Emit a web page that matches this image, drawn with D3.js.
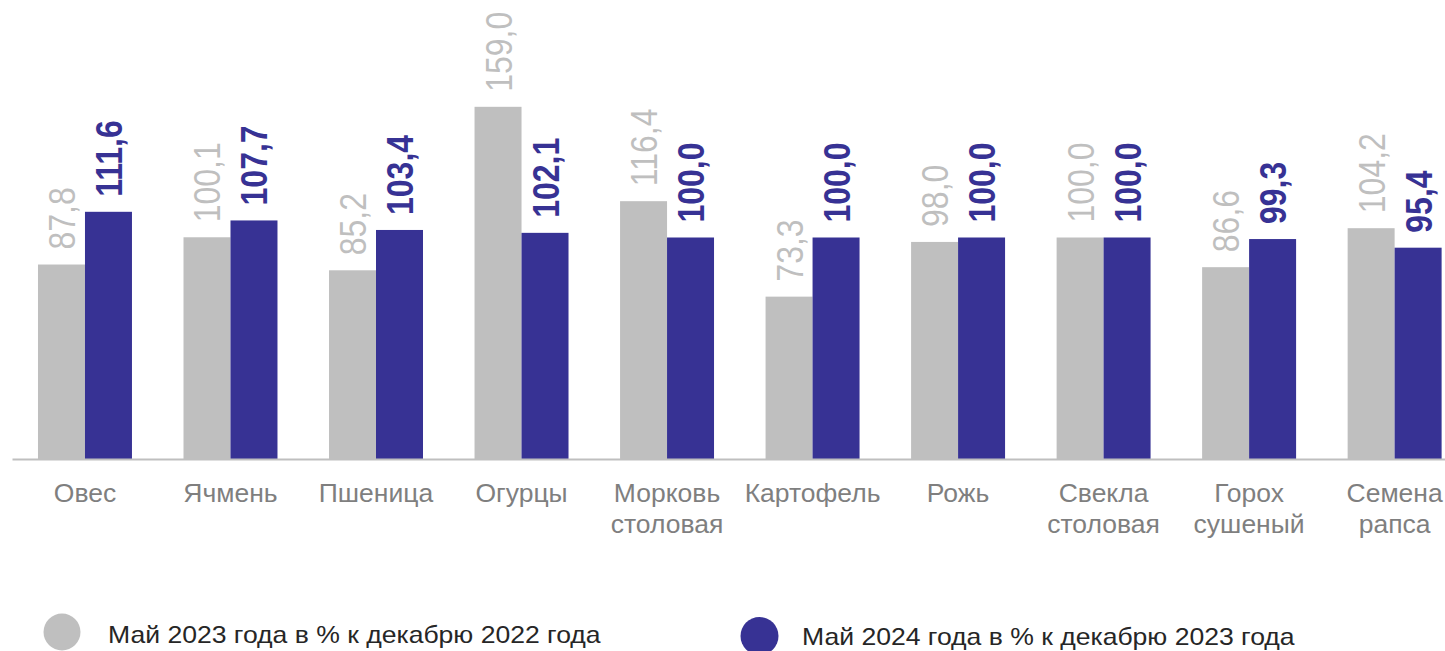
<!DOCTYPE html>
<html><head><meta charset="utf-8">
<script src="https://cdn.jsdelivr.net/npm/d3@7"></script>
<style>
html,body{margin:0;padding:0;background:#fff;}
svg{display:block;font-family:"Liberation Sans",Arial,sans-serif;}
</style></head>
<body>
<svg id="chart" width="1445" height="651"></svg>
<script>
const categories = [["Овес"],["Ячмень"],["Пшеница"],["Огурцы"],["Морковь","столовая"],["Картофель"],["Рожь"],["Свекла","столовая"],["Горох","сушеный"],["Семена","рапса"]];
const series2023 = [87.8, 100.1, 85.2, 159.0, 116.4, 73.3, 98.0, 100.0, 86.6, 104.2];
const series2024 = [111.6, 107.7, 103.4, 102.1, 100.0, 100.0, 100.0, 100.0, 99.3, 95.4];
const seriesNames = ["Май 2023 года в % к декабрю 2022 года", "Май 2024 года в % к декабрю 2023 года"];
const colors = ["#bfbfbf", "#373294"];

const svg = d3.select("#chart");
const keys = categories.map((c,i)=>"c"+i);
const x = d3.scaleBand().domain(keys).range([12, 1467.6]).paddingInner(0.3542).paddingOuter(0.1786);
const xs = d3.scaleBand().domain([0,1]).range([0, x.bandwidth()]).padding(0);
const y = d3.scaleLinear().domain([0, 200]).range([459, 16]);
const fmt = v => d3.format(".1f")(v).replace(".", ",");

const data = [series2023, series2024];
data.forEach((vals, s) => {
  const g = svg.append("g");
  g.selectAll("rect").data(vals).join("rect")
    .attr("x", (d,i)=>x(keys[i]) + xs(s))
    .attr("y", d=>y(d))
    .attr("width", xs.bandwidth())
    .attr("height", d=>y(0)-y(d))
    .attr("fill", colors[s]);
  g.selectAll("text").data(vals).join("text")
    .attr("transform", (d,i)=>`translate(${x(keys[i]) + xs(s) + xs.bandwidth()/2},${y(d)-15}) rotate(-90) scale(1,1.18)`)
    .attr("text-anchor","start")
    .attr("dominant-baseline","central")
    .attr("font-size", 32)
    .attr("font-weight", s===1 ? "bold" : "normal")
    .attr("fill", colors[s])
    .text(d=>fmt(d));
});

// axis
const axis = d3.axisBottom(x).tickSize(0).tickFormat("");
const ag = svg.append("g").attr("transform", `translate(0,${y(0)})`).call(axis);
ag.select(".domain").attr("stroke", "#bfbfbf").attr("stroke-width", 2);
ag.selectAll(".tick").each(function(d, i){
  const t = d3.select(this).append("text")
    .attr("fill", "#7f7f7f").attr("font-size", 26.5).attr("text-anchor","middle");
  categories[i].forEach((line, j) => {
    t.append("tspan").attr("x", 0).attr("y", 43 + j*31).text(line);
  });
});

// legend
const legend = [{x:62, cy:632, r:18.5, tx:108}, {x:759.5, cy:636, r:19, tx:802}];
legend.forEach((l, i) => {
  svg.append("circle").attr("cx", l.x).attr("cy", l.cy).attr("r", l.r).attr("fill", colors[i]);
  svg.append("text").attr("transform", `translate(${l.tx},${643 + (i ? 2 : 0)}) scale(1.107,1)`)
    .attr("font-size", 24).attr("fill", "#262626").text(seriesNames[i]);
});
</script>
</body></html>
